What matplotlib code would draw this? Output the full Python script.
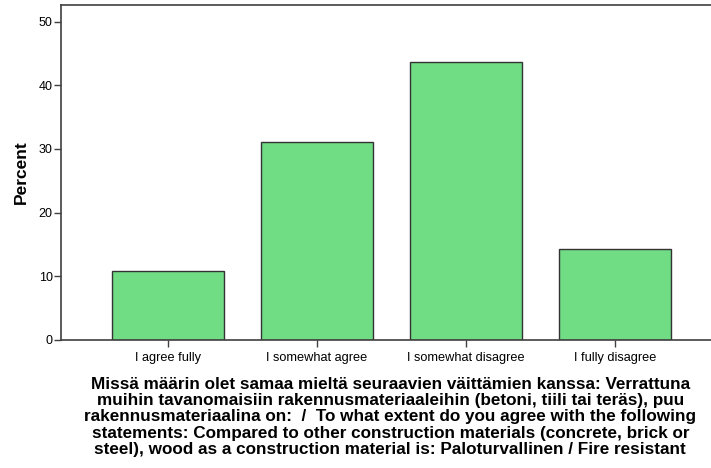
import numpy as np
import matplotlib.pyplot as plt

# SPSS style bar chart of answer percentages

categories = ["I agree fully", "I somewhat agree", "I somewhat disagree", "I fully disagree"]
percent = [10.9, 31.1, 43.7, 14.3]
y_ticks = [0, 10, 20, 30, 40, 50]

question = ("Missä määrin olet samaa mieltä seuraavien väittämien kanssa: Verrattuna\n"
            "muihin tavanomaisiin rakennusmateriaaleihin (betoni, tiili tai teräs), puu\n"
            "rakennusmateriaalina on:  /  To what extent do you agree with the following\n"
            "statements: Compared to other construction materials (concrete, brick or\n"
            "steel), wood as a construction material is: Paloturvallinen / Fire resistant")

plt.rcParams['font.family'] = ['Liberation Sans', 'DejaVu Sans']

fig = plt.figure(figsize=(7.11, 4.68), dpi=100)
# axes box in pixels: left 61, right 711, top 5, bottom 340
ax = fig.add_axes([61 / 711, 1 - 340 / 468, 650 / 711, 335 / 468])

x = np.arange(len(categories))
ax.bar(x, percent, width=0.75, color="#70dc84", edgecolor="#333333", linewidth=1.0, zorder=2)

ax.set_xlim(-0.718, 3.645)
ax.set_ylim(0, 52.6)
ax.set_yticks(y_ticks)
ax.set_xticks(x)
ax.set_xticklabels(categories, fontsize=9.2)
ax.tick_params(axis="y", labelsize=9, length=5, width=1, color="#404040", pad=1)
ax.tick_params(axis="x", length=5, width=1, color="#404040", pad=4)

for side in ["left", "bottom", "top"]:
    ax.spines[side].set_color("#404040")
    ax.spines[side].set_linewidth(1.2)
ax.spines["right"].set_visible(False)

ax.set_ylabel("Percent", fontsize=12.5, fontweight="bold", labelpad=7)

fig.text(0.549, 1 - 417 / 468, question, ha="center", va="center",
         fontsize=12.3, fontweight="bold", linespacing=1.1)

fig.savefig("out.png", dpi=100)
